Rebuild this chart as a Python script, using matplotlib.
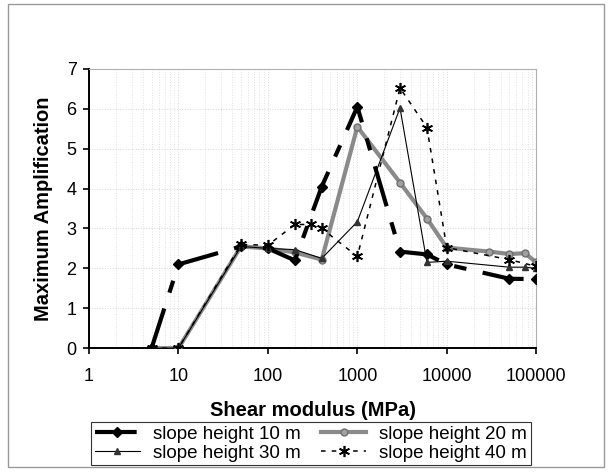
import matplotlib
matplotlib.use("Agg")
import matplotlib.pyplot as plt
from matplotlib.patches import Rectangle
from matplotlib.ticker import LogLocator, FixedLocator, NullFormatter

plt.rcParams['font.family'] = ['Liberation Sans', 'DejaVu Sans']

# shear modulus (MPa) and maximum amplification for each slope height
g_10 = [5, 10, 50, 100, 200, 400, 1000, 3000, 6000, 10000, 50000, 100000]
amp_10 = [0, 2.1, 2.55, 2.5, 2.2, 4.05, 6.05, 2.42, 2.35, 2.1, 1.74, 1.73]

g_20 = [5, 10, 50, 100, 200, 400, 1000, 3000, 6000, 10000, 30000, 50000, 75000, 100000]
amp_20 = [0, 0, 2.55, 2.5, 2.4, 2.22, 5.55, 4.15, 3.25, 2.52, 2.42, 2.36, 2.38, 2.15]

g_30 = [5, 10, 50, 100, 200, 400, 1000, 3000, 6000, 10000, 50000, 75000, 100000]
amp_30 = [0, 0, 2.55, 2.5, 2.47, 2.25, 3.17, 6.02, 2.15, 2.18, 2.03, 2.03, 2.0]

g_40 = [5, 10, 50, 100, 200, 300, 400, 1000, 3000, 6000, 10000, 50000, 100000]
amp_40 = [0, 0, 2.6, 2.58, 3.1, 3.1, 3.0, 2.3, 6.52, 5.53, 2.52, 2.22, 2.05]

labels = ["slope height 10 m", "slope height 20 m", "slope height 30 m", "slope height 40 m"]

fig = plt.figure(figsize=(6.1, 4.75), dpi=100)
ax = fig.add_axes([0.146, 0.267, 0.733, 0.588])

l10, = ax.plot(g_10, amp_10, color="black", lw=3, dashes=(10, 4, 3, 4),
               marker="D", ms=5, mfc="black", mec="black", zorder=4)
l20, = ax.plot(g_20, amp_20, color="#8a8a8a", lw=3, marker="o", ms=5,
               mfc="#a0a0a0", mec="#707070", zorder=3)
l30, = ax.plot(g_30, amp_30, color="black", lw=0.8, marker="^", ms=5,
               mfc="#333333", mec="#333333", zorder=5)
l40, = ax.plot(g_40, amp_40, color="black", lw=1.1, dashes=(3, 4),
               marker=(6, 2, 0), ms=8, mec="black", mew=1.2, zorder=6)

ax.set_xscale("log")
ax.set_xlim(1, 100000)
ax.set_ylim(0, 7)
ax.xaxis.set_major_locator(FixedLocator([1, 10, 100, 1000, 10000, 100000]))
ax.set_xticklabels(["1", "10", "100", "1000", "10000", "100000"])
ax.xaxis.set_minor_locator(LogLocator(base=10, subs=range(2, 10)))
ax.xaxis.set_minor_formatter(NullFormatter())
ax.set_yticks(range(0, 8))

ax.grid(True, which="minor", axis="x", color="#e0e0e0", ls=":", lw=0.7)
ax.grid(True, which="major", axis="both", color="#d8d8d8", ls=":", lw=0.7)

ax.tick_params(axis="both", which="major", direction="out", length=4, width=1.2,
               labelsize=13, colors="black")
ax.tick_params(axis="x", which="major", pad=10)
ax.tick_params(axis="y", which="major", pad=5)
ax.tick_params(axis="x", which="minor", length=0)

for side in ("left", "bottom"):
    ax.spines[side].set_linewidth(1.4)
    ax.spines[side].set_color("black")
for side in ("top", "right"):
    ax.spines[side].set_color("#b0b0b0")
    ax.spines[side].set_linewidth(0.8)

ax.set_ylabel("Maximum Amplification", fontsize=14.5, fontweight="bold", labelpad=10)
ax.set_xlabel("Shear modulus (MPa)", fontsize=14.5, fontweight="bold", labelpad=12)

leg = fig.legend([l10, l30, l20, l40], [labels[0], labels[2], labels[1], labels[3]],
                 ncol=2, loc="center", bbox_to_anchor=(0.51, 0.066),
                 fontsize=13.5, frameon=True, fancybox=False, edgecolor="black",
                 handlelength=2.4, handletextpad=0.7, columnspacing=1.1,
                 borderpad=0.2, borderaxespad=0.0, labelspacing=0.1)
leg.get_frame().set_linewidth(0.8)

fig.patches.append(Rectangle((0.013, 0.017), 0.977, 0.975, transform=fig.transFigure,
                             fill=False, edgecolor="#999999", lw=1.0))

fig.savefig("out.png", dpi=100)
